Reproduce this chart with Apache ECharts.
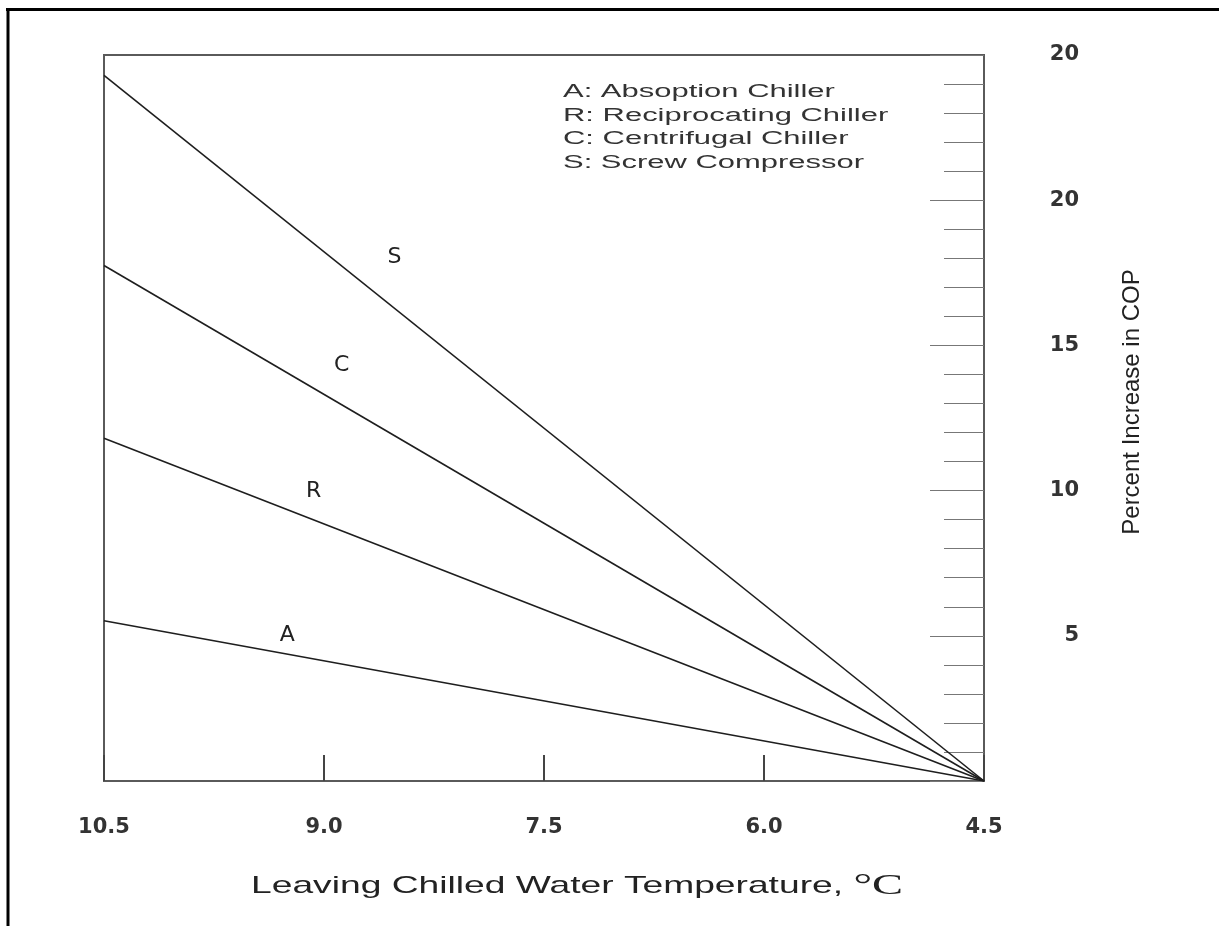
<!DOCTYPE html>
<html>
<head>
<meta charset="utf-8">
<script src="https://cdn.jsdelivr.net/npm/echarts@6/dist/echarts.min.js"></script>
<style>
html,body{margin:0;padding:0;background:#fff;}
#chart{width:1219px;height:926px;}
</style>
</head>
<body>
<div id="chart"></div>
<script>
// ---- data ----
var temps = [10.5, 4.5];                 // leaving chilled water temperature, °C
var seriesNames = ['A', 'R', 'C', 'S'];
var valuesA = [5.52, 0];                 // Absorption chiller
var valuesR = [11.8, 0];                 // Reciprocating chiller
var valuesC = [17.75, 0];                // Centrifugal chiller
var valuesS = [24.3, 0];                 // Screw compressor
var yTickLabels = ['', '5', '10', '15', '20', '20']; // labels at 0,5,10,15,20,25 (as printed)
var legendLines = ['A: Absoption Chiller', 'R: Reciprocating Chiller', 'C: Centrifugal Chiller', 'S: Screw Compressor'];
var xAxisTitle = 'Leaving Chilled Water Temperature, ';
var xAxisUnit = '°C';
var yAxisTitle = 'Percent Increase in COP';

// ---- layout for line tags (temperature where the tag sits, pixel lift) ----
var tagTemp = {A: 9.25, R: 9.07, C: 8.88, S: 8.52};
var tagLift = {A: -19, R: -29, C: -39, S: -51};

var allValues = {A: valuesA, R: valuesR, C: valuesC, S: valuesS};

function valueAt(vals, t) {
  var f = (t - temps[0]) / (temps[1] - temps[0]);
  return vals[0] + f * (vals[1] - vals[0]);
}

var chart = echarts.init(document.getElementById('chart'), null, {renderer: 'canvas'});

var series = seriesNames.map(function (n) {
  var vals = allValues[n];
  return {
    name: n,
    type: 'line',
    data: temps.map(function (t, i) { return [t, vals[i]]; }),
    symbol: 'none',
    silent: true,
    lineStyle: {color: '#1e1e1e', width: 1.6},
    markPoint: {
      symbol: 'circle',
      symbolSize: 1,
      itemStyle: {color: 'rgba(0,0,0,0)'},
      label: {
        show: true,
        position: 'inside',
        offset: [0, tagLift[n]],
        formatter: n,
        color: '#222',
        fontFamily: 'DejaVu Sans, sans-serif',
        fontSize: 22
      },
      data: [{coord: [tagTemp[n], valueAt(vals, tagTemp[n])]}]
    }
  };
});

var option = {
  backgroundColor: '#fff',
  animation: false,
  grid: {
    left: 104, right: 235, top: 55, bottom: 145,
    show: true, borderColor: '#5a5a5a', borderWidth: 2, backgroundColor: 'transparent'
  },
  xAxis: {
    type: 'value',
    min: 4.5, max: 10.5, interval: 1.5,
    inverse: true,
    axisLine: {show: true, lineStyle: {color: '#5a5a5a', width: 2}},
    axisTick: {show: true, inside: true, length: 26, lineStyle: {color: '#444', width: 2}},
    splitLine: {show: false},
    axisLabel: {
      show: true, margin: 36,
      showMinLabel: true, showMaxLabel: true,
      color: '#333', fontSize: 21, fontWeight: 'bold',
      fontFamily: 'DejaVu Sans, sans-serif',
      formatter: function (v) { return v.toFixed(1); }
    }
  },
  yAxis: {
    type: 'value',
    position: 'right',
    min: 0, max: 25, interval: 5,
    axisLine: {show: true, lineStyle: {color: '#5a5a5a', width: 2}},
    axisTick: {show: true, inside: true, length: 54, lineStyle: {color: '#777', width: 1}},
    minorTick: {show: true, splitNumber: 5, length: 40, lineStyle: {color: '#777', width: 1}},
    splitLine: {show: false},
    axisLabel: {
      show: true, inside: false, margin: 95, align: 'right',
      showMinLabel: true, showMaxLabel: true,
      color: '#333', fontSize: 21, fontWeight: 'bold',
      fontFamily: 'DejaVu Sans, sans-serif',
      formatter: function (v) { return yTickLabels[Math.round(v / 5)]; }
    },
    name: yAxisTitle,
    nameLocation: 'middle',
    nameRotate: 90,
    nameGap: 136,
    nameTextStyle: {
      color: '#222', fontSize: 24,
      fontFamily: 'Liberation Sans, Arial, sans-serif',
      padding: [0, 0, 0, 32]
    }
  },
  graphic: [
    {type: 'line', shape: {x1: 6, y1: 9.5, x2: 1219, y2: 9.5}, style: {stroke: '#000', lineWidth: 3}, silent: true},
    {type: 'line', shape: {x1: 8, y1: 8, x2: 8, y2: 926}, style: {stroke: '#000', lineWidth: 3}, silent: true},
    {
      type: 'text', x: 563, y: 80, scaleX: 1.72, silent: true,
      style: {
        text: legendLines.join('\n'),
        x: 0, y: 0, align: 'left', verticalAlign: 'top',
        fill: '#333', fontSize: 18, lineHeight: 23.7,
        fontFamily: 'Liberation Sans, Arial, sans-serif'
      }
    },
    {
      type: 'text', x: 577, y: 886, scaleX: 1.55, silent: true,
      style: {
        text: '{a|' + xAxisTitle + '}{b|' + xAxisUnit + '}',
        x: 0, y: 0, align: 'center', verticalAlign: 'middle',
        rich: {
          a: {fontSize: 24, fill: '#222', color: '#222', fontFamily: 'Liberation Sans, Arial, sans-serif'},
          b: {fontSize: 30, fill: '#222', color: '#222', fontFamily: 'Liberation Serif, serif'}
        }
      }
    }
  ],
  series: series
};
chart.setOption(option);
</script>
</body>
</html>
